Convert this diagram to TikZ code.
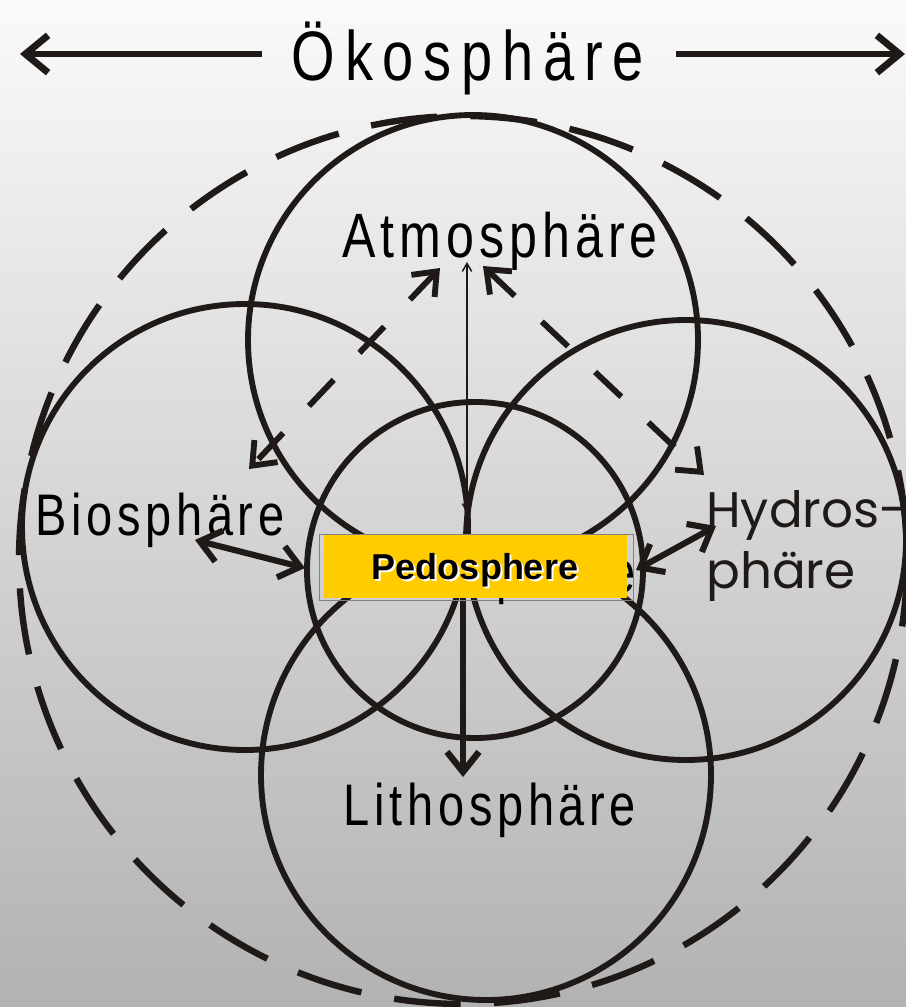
\documentclass[tikz,border=0pt]{standalone}
\usepackage{fontspec}
\setmainfont{Liberation Sans}
\newfontfamily\narrowfont[FakeStretch=0.8,LetterSpace=8]{Liberation Sans}
\newfontfamily\titlefont[FakeStretch=0.8,LetterSpace=14]{Liberation Sans}
\newfontfamily\geofont{Poppins}
\usetikzlibrary{arrows.meta}
\definecolor{ink}{RGB}{31,26,23}
\definecolor{pedo}{RGB}{255,204,0}
\definecolor{bgtop}{RGB}{250,250,250}
\definecolor{bgbot}{RGB}{178,178,178}
\begin{document}
\begin{tikzpicture}[x=0.75pt,y=-0.75pt,
  sphere/.style={draw=ink,line width=4.4pt},
  outerring/.style={draw=ink,line width=4.8pt,dash pattern=on 50pt off 25pt},
  barb/.tip={Straight Barb[length=15pt,width=24pt]},
  bigbarb/.tip={Straight Barb[length=17pt,width=28pt]},
  smallbarb/.tip={Straight Barb[length=6pt,width=7pt]},
  thickarrow/.style={draw=ink,line width=4.6pt,barb-barb},
  downarrow/.style={draw=ink,line width=4.8pt,-barb},
  dasharrow/.style={draw=ink,line width=4.4pt,dash pattern=on 27pt off 28pt,barb-barb},
  thinarrow/.style={draw=ink,line width=1.1pt,smallbarb-smallbarb},
  titlearrow/.style={draw=ink,line width=5.2pt,-bigbarb},
  lbl/.style={inner sep=0pt,text=black},
]
\useasboundingbox (0,0) rectangle (906,1007);
\shade[top color=bgtop,bottom color=bgbot] (0,0) rectangle (906,1007);
\clip (0,0) rectangle (906,1007);

% spheres
\draw[outerring] (463,560) circle [radius=444];
\draw[sphere] (473,340) circle [radius=225];
\draw[sphere] (245,527) circle [radius=223];
\draw[sphere] (686,540) circle [radius=220];
\draw[sphere] (486,775) circle [radius=225];
\draw[sphere] (475,570) circle [radius=168];

% labels
\node[lbl,anchor=base,font=\titlefont\fontsize{52.5}{60}\selectfont] (oeko) at (468,80) {Ökosphäre};
\node[lbl,anchor=base,font=\narrowfont\fontsize{47}{52}\selectfont] (atm) at (500,257) {Atmosphäre};
\node[lbl,anchor=base,font=\narrowfont\fontsize{44}{50}\selectfont] (bio) at (160,535) {Biosphäre};
\node[lbl,anchor=base,font=\narrowfont\fontsize{44}{50}\selectfont] (lith) at (490,825) {Lithosphäre};
\node[lbl,anchor=base west,text=ink,font=\geofont\fontsize{37.5}{46}\selectfont] (hyd1) at (706,527) {Hydros-};
\node[lbl,anchor=base west,text=ink,font=\geofont\fontsize{37.5}{46}\selectfont] (hyd2) at (706,588) {phäre};

% title arrows
\coordinate (tlA) at (262,54);
\coordinate (tlB) at (20,54);
\coordinate (trA) at (676,54);
\coordinate (trB) at (905,54);
\draw[titlearrow] (tlA) -- (tlB);
\draw[titlearrow] (trA) -- (trB);

% interaction arrows
\coordinate (bioA) at (195,540);
\coordinate (bioB) at (305,568);
\coordinate (hydA) at (636,570);
\coordinate (hydB) at (716,526);
\coordinate (litA) at (463,598);
\coordinate (litB) at (463,777);
\coordinate (thA) at (467,513);
\coordinate (thB) at (467,262);
\coordinate (dlA) at (440,268);
\coordinate (dlB) at (249,469);
\coordinate (drA) at (483,266);
\coordinate (drB) at (704,475);
\draw[thickarrow] (bioA) -- (bioB);
\draw[thickarrow] (hydA) -- (hydB);
\draw[downarrow] (litA) -- (litB);
\draw[thinarrow] (thA) -- (thB);
\draw[dasharrow] (dlA) -- (dlB);
\draw[dasharrow] (drA) -- (drB);

% pedosphere box
\draw[gray,line width=0.6pt] (319,534) rectangle (633,600);
\node[lbl,anchor=base east,font=\narrowfont\fontsize{44}{50}\selectfont] (pedohidden) at (636,592) {Pedosphäre};
\node[fill=pedo,inner sep=0pt,minimum width=227.25pt,minimum height=47.25pt] (pedo) at (475.5,566.5) {};
\node[lbl,anchor=base,text=white,font=\bfseries\fontsize{27}{30}\selectfont] (pedoshadow) at (477,581) {Pedosphere};
\node[lbl,anchor=base,font=\bfseries\fontsize{27}{30}\selectfont] (pedotext) at (475,579) {Pedosphere};
\end{tikzpicture}
\end{document}
